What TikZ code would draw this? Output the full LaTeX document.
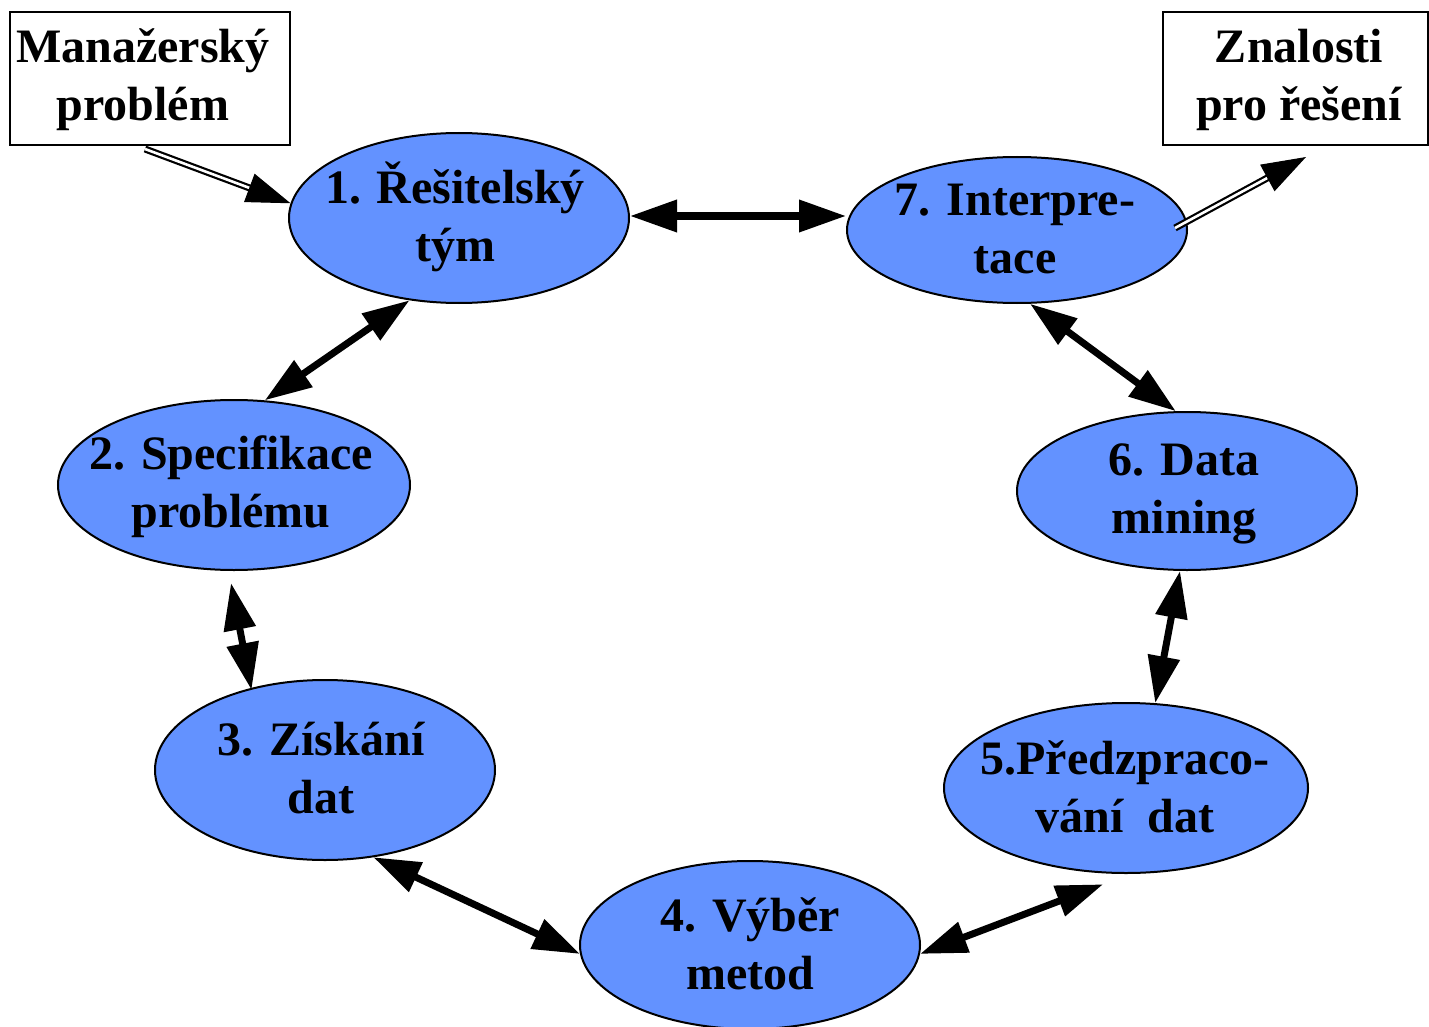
\documentclass[tikz,border=0pt]{standalone}
\usepackage{fontspec}
\setmainfont{Liberation Serif}
\usetikzlibrary{arrows.meta,shapes.geometric,calc}
\definecolor{stagefill}{RGB}{99,146,255}
\tikzset{
  stage/.style={ellipse, draw=black, line width=2pt, fill=stagefill, inner sep=0pt},
  lbl/.style={align=center, font=\fontsize{48}{58}\selectfont\bfseries, inner sep=0pt},
  note/.style={draw=black, line width=2pt, fill=white, inner sep=0pt},
  link/.style={{Triangle[length=47pt,width=31pt]}-{Triangle[length=47pt,width=31pt]}, line width=7pt},
  hollow/.style={double=white, draw=black, line width=2.2pt, double distance=2.6pt},
  headtip/.style={-{Triangle[length=44pt,width=30pt]}, line width=1pt},
}
\begin{document}
\begin{tikzpicture}[x=1pt,y=-1pt]
\useasboundingbox (0,0) rectangle (1429,1027);

% process stages
\node[stage, minimum width=340pt, minimum height=170pt] (n1) at (459,218) {};
\node[stage, minimum width=352pt, minimum height=170pt] (n2) at (234,485) {};
\node[stage, minimum width=340pt, minimum height=180pt] (n3) at (325,770) {};
\node[stage, minimum width=340pt, minimum height=168pt] (n4) at (750,945) {};
\node[stage, minimum width=364pt, minimum height=170pt] (n5) at (1126,788) {};
\node[stage, minimum width=340pt, minimum height=158pt] (n6) at (1187,491) {};
\node[stage, minimum width=340pt, minimum height=146pt] (n7) at (1017,230) {};

\node[lbl] (t1) at (455,217) {1. Řešitelský\\tým};
\node[lbl] (t2) at (231,487) {2. Specifikace\\problému};
\node[lbl] (t3) at (321,768) {3. Získání\\dat};
\node[lbl] (t4) at (750,944) {4. Výběr\\metod};
\node[lbl] (t5) at (1125,787) {5.Předzpraco-\\vání~~dat};
\node[lbl] (t6) at (1184,494) {6. Data\\mining};
\node[lbl] (t7) at (1015,229) {7. Interpre-\\tace};

% input and output boxes
\node[note, minimum width=280pt, minimum height=133pt] (m) at (150,78.5) {};
\node[lbl] (tm) at (143,80) {Manažerský\\problém};
\node[note, minimum width=265pt, minimum height=133pt] (z) at (1295.5,78.5) {};
\node[lbl] (tz) at (1299,80) {Znalosti\\pro řešení};

% links between stages
\draw[link] ([yshift=2pt]n1.east) -- ([yshift=2pt]n7.west |- n1.east);
\draw[link] (n1.239) -- (n2.70);
\draw[link, shorten <=-2pt] (n3.132) -- ([yshift=-12pt]n2.268);
\draw[link] (n3.299) -- (n4.183);
\draw[link] (n4.357) -- ([yshift=-11pt]n5.255);
\draw[link] (n5.71) -- (n6.265);
\draw[link] (n6.98) -- (n7.280);

% problem in, knowledge out
\coordinate (min) at ([xshift=-5pt,yshift=-3pt]m.south);
\coordinate (zout) at (1175,228);
\coordinate (zin) at (1306,157);
\draw[hollow, shorten >=40pt] (min) -- (n1.175);
\draw[headtip] ($(n1.175)!44pt!(min)$) -- (n1.175);
\draw[hollow, shorten >=40pt] (zout) -- (zin);
\draw[headtip] ($(zin)!44pt!(zout)$) -- (zin);
\end{tikzpicture}
\end{document}
